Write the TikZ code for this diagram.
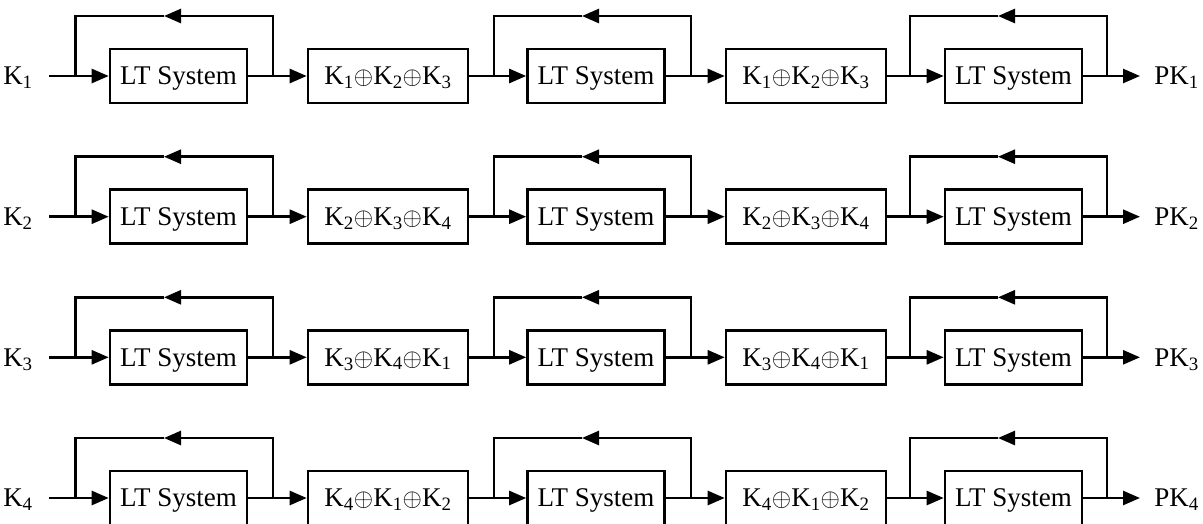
\documentclass[tikz,border=0pt]{standalone}
\usepackage{fontspec}
\setmainfont{Liberation Serif}
\usetikzlibrary{arrows.meta}
\begin{document}
\begin{tikzpicture}[x=1pt,y=-1pt,line width=2.6pt,
  txt/.style={font=\fontsize{27}{30}\selectfont,text height=17.5pt,text depth=0pt},
  box/.style={txt,draw,line width=2.6pt,inner sep=0pt,minimum height=54pt},
  ltbox/.style={box,minimum width=137pt},
  xorbox/.style={box,minimum width=160pt},
  lbl/.style={txt,inner ysep=0pt},
  arr/.style={-{Triangle[length=17pt,width=14pt]}}]
\useasboundingbox (0,0) rectangle (1203,523);
\foreach \r/\y/\a/\b/\c in {1/76/1/2/3,2/216.7/2/3/4,3/357.3/3/4/1,4/498/4/1/2}{
  \node[lbl,inner xsep=15pt,anchor=east] (k\r) at (49,\y) {K\textsubscript{\r}};
  \node[ltbox] (la\r) at (178.5,\y) {LT System};
  \node[xorbox] (xa\r) at (388,\y) {K\textsubscript{\a}$\oplus$K\textsubscript{\b}$\oplus$K\textsubscript{\c}};
  \node[ltbox] (lb\r) at (596,\y) {LT System};
  \node[xorbox] (xb\r) at (806,\y) {K\textsubscript{\a}$\oplus$K\textsubscript{\b}$\oplus$K\textsubscript{\c}};
  \node[ltbox] (lc\r) at (1013.5,\y) {LT System};
  \node[lbl,inner xsep=13pt,anchor=west] (pk\r) at (1140,\y) {PK\textsubscript{\r}};
  % junctions and loop arrow tips
  \coordinate (j1\r) at (75.5,\y);
  \coordinate (j2\r) at (273,\y);
  \coordinate (j3\r) at (494,\y);
  \coordinate (j4\r) at (691,\y);
  \coordinate (j5\r) at (910,\y);
  \coordinate (j6\r) at (1107,\y);
  \coordinate (t1\r) at (164,\y-60);
  \coordinate (t2\r) at (582,\y-60);
  \coordinate (t3\r) at (998,\y-60);
  % forward path
  \draw[arr] (k\r.east) -- (la\r.west);
  \draw[arr] (la\r.east) -- (xa\r.west);
  \draw[arr] (xa\r.east) -- (lb\r.west);
  \draw[arr] (lb\r.east) -- (xb\r.west);
  \draw[arr] (xb\r.east) -- (lc\r.west);
  \draw[arr] (lc\r.east) -- (pk\r.west);
  % feedback loops
  \draw[arr] (j2\r) |- (t1\r);
  \draw (t1\r) -| (j1\r);
  \draw[arr] (j4\r) |- (t2\r);
  \draw (t2\r) -| (j3\r);
  \draw[arr] (j6\r) |- (t3\r);
  \draw (t3\r) -| (j5\r);
}
\end{tikzpicture}
\end{document}
